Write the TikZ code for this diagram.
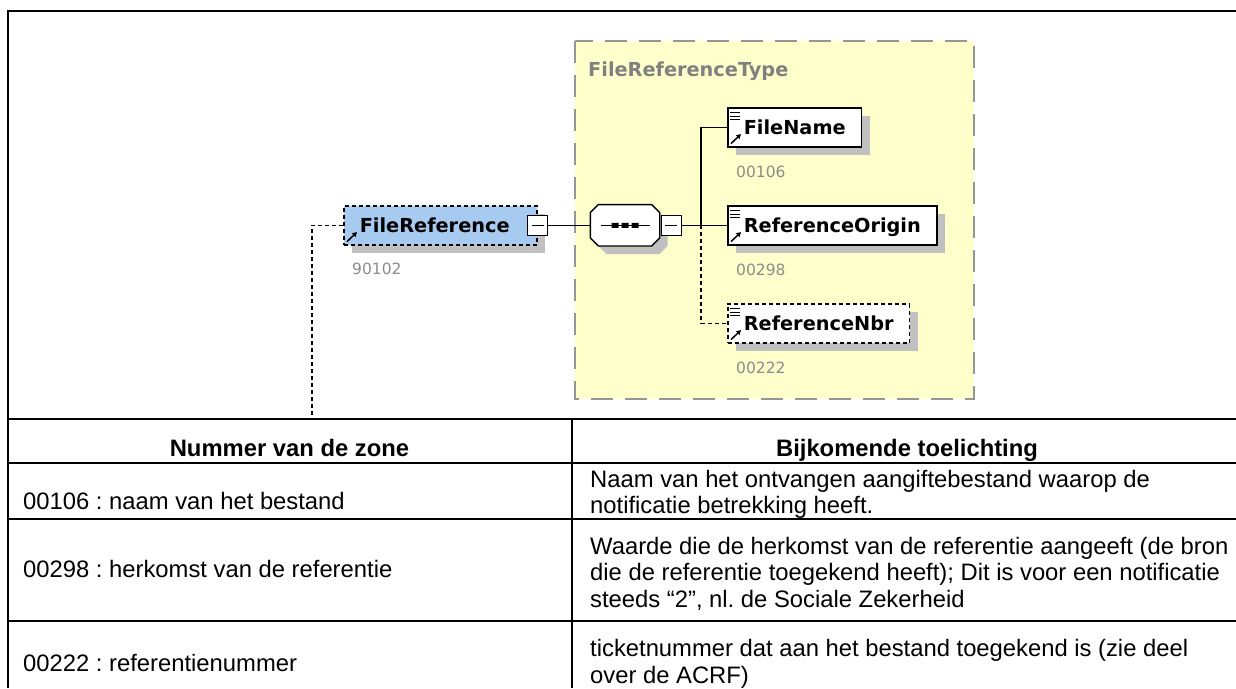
\documentclass[tikz,border=0pt]{standalone}
\usepackage{fontspec}
\setmainfont{Liberation Sans}
\newfontfamily\xsdfont{DejaVu Sans}
\usetikzlibrary{positioning,shadows,arrows.meta}
\definecolor{xsdyellow}{RGB}{255,255,204}
\definecolor{xsdblue}{RGB}{166,202,240}
\definecolor{xsdshadow}{RGB}{192,192,192}
\definecolor{xsdgray}{RGB}{128,128,128}
\definecolor{xsdnumgray}{RGB}{140,140,140}
\definecolor{xsdframe}{RGB}{150,150,150}
\pgfkeys{tikz/xsdelem/.style={draw, fill=white, line width=1.6pt,
                              inner xsep=16pt, inner ysep=0pt,
                              minimum height=39pt, text height=15pt, text depth=0pt,
                              font=\xsdfont\bfseries\fontsize{19.3}{23}\selectfont,
                              drop shadow={shadow xshift=8pt, shadow yshift=-8pt, fill=xsdshadow, opacity=1}}}
\pgfkeys{tikz/xsdoptional/.style={dash pattern=on 4pt off 3pt}}
\pgfkeys{tikz/xsdminus/.style={draw, fill=white, line width=1.4pt, minimum size=20pt, inner sep=0pt}}
\pgfkeys{tikz/xsdseq/.style={minimum width=69pt, minimum height=41pt, inner sep=0pt}}
\pgfkeys{tikz/xsdnum/.style={anchor=base west, inner sep=0pt, text=xsdnumgray,
                             font=\xsdfont\fontsize{15.5}{18}\selectfont}}
\pgfkeys{tikz/xsdline/.style={line width=1.4pt}}
\pgfkeys{tikz/xsddash/.style={line width=1.4pt, dash pattern=on 4pt off 3pt}}
\pgfkeys{tikz/tblline/.style={line width=2pt}}
\pgfkeys{tikz/tblhead/.style={anchor=base, inner sep=0pt,
                              font=\bfseries\fontsize{23.8}{26.5}\selectfont}}
\pgfkeys{tikz/tblleft/.style={anchor=base west, inner sep=0pt,
                              font=\fontsize{23.8}{26.5}\selectfont}}
\pgfkeys{tikz/tblright/.style={anchor=north west, inner sep=0pt, align=left,
                               font=\fontsize{23.8}{26.5}\selectfont}}
\newcommand{\xsdarrow}[1]{\draw[line width=1.5pt,-{Triangle[length=4.5pt,width=5pt]}]
    ([shift={(4pt,4pt)}]#1.south west) -- ([shift={(14pt,13.5pt)}]#1.south west);}
\newcommand{\xsdleaf}[1]{\draw[line width=1pt]
    ([shift={(3pt,-5.5pt)}]#1.north west) -- +(10pt,0pt)
    ([shift={(3pt,-9pt)}]#1.north west) -- +(10pt,0pt)
    ([shift={(3pt,-12.5pt)}]#1.north west) -- +(10pt,0pt);
    \xsdarrow{#1}}
\frenchspacing
\begin{document}
\begin{tikzpicture}[x=1pt,y=-1pt]
    \useasboundingbox (0,0) rectangle (1236,688);
    \fill[white] (0,0) rectangle (1236,688);
    \clip (0,0) rectangle (1236,688);

    % complex type
    \draw[xsdframe, fill=xsdyellow, line width=2pt, dash pattern=on 22pt off 12pt] (575,41) rectangle (974,399);
    \node[anchor=base west, inner sep=0pt, text=xsdgray, font=\xsdfont\bfseries\fontsize{19.3}{23}\selectfont] (ftype) at (588,76) {FileReferenceType};

    % elements
    \node[xsdelem, xsdoptional, fill=xsdblue, text width=161pt, align=left, anchor=north west] (fileref) at (343,205) {FileReference};
    \node[xsdminus] (frminus) at (fileref.east) {\rule[-0.7pt]{12pt}{1.4pt}};
    \node[xsdnum] (n90102) at ([xshift=9pt,yshift=-29pt]fileref.south west) {90102};
    \xsdarrow{fileref}

    \node[xsdseq, right=42pt of frminus] (seq) {};
    \draw[fill=white, line width=1.4pt, drop shadow={shadow xshift=8pt, shadow yshift=-8pt, fill=xsdshadow, opacity=1}]
        ([xshift=8pt]seq.north west) -- ([xshift=-8pt]seq.north east) -- ([yshift=-8pt]seq.north east) -- ([yshift=8pt]seq.south east)
        -- ([xshift=-8pt]seq.south east) -- ([xshift=8pt]seq.south west) -- ([yshift=8pt]seq.south west) -- ([yshift=-8pt]seq.north west) -- cycle;
    \draw[xsdline] ([xshift=-24pt]seq.center) -- ([xshift=25pt]seq.center);
    \fill ([shift={(-13.5pt,-2.5pt)}]seq.center) rectangle ([shift={(-6.5pt,2.5pt)}]seq.center)
          ([shift={(-3.5pt,-2.5pt)}]seq.center) rectangle ([shift={(3.5pt,2.5pt)}]seq.center)
          ([shift={(6.5pt,-2.5pt)}]seq.center) rectangle ([shift={(13.5pt,2.5pt)}]seq.center);
    \node[xsdminus, right=1pt of seq] (seqminus) {\rule[-0.7pt]{12pt}{1.4pt}};
    \coordinate[right=19pt of seqminus] (fork);

    \node[xsdelem, anchor=north west] (fname) at (727,107) {FileName};
    \node[xsdnum] (n00106) at ([xshift=9pt,yshift=-30pt]fname.south west) {00106};
    \xsdleaf{fname}
    \node[xsdelem, anchor=north west] (forig) at (727,205) {ReferenceOrigin};
    \node[xsdnum] (n00298) at ([xshift=9pt,yshift=-30pt]forig.south west) {00298};
    \xsdleaf{forig}
    \node[xsdelem, xsdoptional, anchor=north west] (fnbr) at (727,303) {ReferenceNbr};
    \node[xsdnum] (n00222) at ([xshift=9pt,yshift=-30pt]fnbr.south west) {00222};
    \xsdleaf{fnbr}

    % connectors
    \coordinate (frtail) at (312,419);
    \draw[xsddash] (fileref.west) -| (frtail);
    \draw[xsdline] (frminus) -- (seq);
    \draw[xsdline] (seqminus) -- (fork) |- (fname.west);
    \draw[xsdline] (fork) -- (forig.west);
    \draw[xsddash] (fork) |- (fnbr.west);

    % frame and table
    \draw[tblline] (7.5,688) -- (7.5,11) -- (1240,11);
    \draw[tblline] (7.5,419) -- (1240,419);
    \draw[tblline] (7.5,463) -- (1240,463);
    \draw[tblline] (7.5,519) -- (1240,519);
    \draw[tblline] (7.5,621) -- (1240,621);
    \draw[tblline] (572,419) -- (572,688);

    \node[tblhead] (hzone) at (289.5,456) {Nummer van de zone};
    \node[tblhead] (hnote) at (907,456) {Bijkomende toelichting};
    \node[tblleft] (z106) at (23,509) {00106 : naam van het bestand};
    \node[tblleft] (z298) at (23,577) {00298 : herkomst van de referentie};
    \node[tblleft] (z222) at (23,671) {00222 : referentienummer};
    \node[tblright] (t106) at (590,468.5) {\strut Naam van het ontvangen aangiftebestand waarop de\\
        notificatie betrekking heeft.};
    \node[tblright] (t298) at (590,535.5) {\strut Waarde die de herkomst van de referentie aangeeft (de bron\\
        die de referentie toegekend heeft); Dit is voor een notificatie\\
        steeds “2”, nl. de Sociale Zekerheid};
    \node[tblright] (t222) at (590,638) {\strut ticketnummer dat aan het bestand toegekend is (zie deel\\
        over de ACRF)};
\end{tikzpicture}
\end{document}
